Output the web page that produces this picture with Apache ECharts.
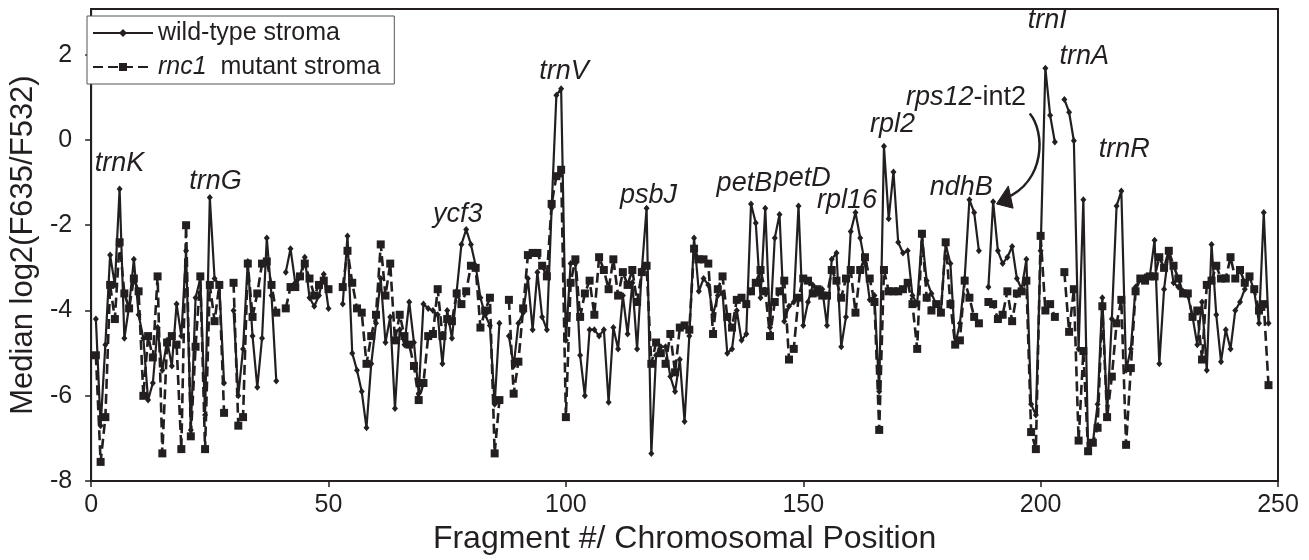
<!DOCTYPE html>
<html>
<head>
<meta charset="utf-8">
<script src="https://cdn.jsdelivr.net/npm/echarts@6/dist/echarts.min.js"></script>
<style>
html,body{margin:0;padding:0;background:#fff;}
#c{width:1309px;height:560px;}
</style>
</head>
<body>
<div id="c"></div>
<script>
// Median log2(F635/F532) per fragment (fragment # 1..248); null = missing
const wildType = [
-4.2,-6.7,-4.8,-2.7,-3.4,-1.15,-4.65,-3.9,-2.8,-4.1,
-4.65,-6.1,-5.7,-4.4,-5.4,-4.7,-5.3,-3.85,-4.6,-2.6,
-6.8,-3.7,-3.25,-6.45,-1.35,-3.25,-3.4,-5.7,null,-4.0,
-6.0,-4.9,-2.85,-4.6,-5.8,-4.65,-2.3,-3.65,-5.65,null,
-3.1,-2.55,-3.35,-3.2,-2.75,-3.7,-3.9,-3.65,-3.15,-3.95,
null,null,-3.85,-2.25,-5.0,-5.4,-5.9,-6.75,-5.25,-4.3,
-3.25,-4.75,-4.15,-6.3,-4.45,-4.8,-3.8,-4.75,-5.95,-3.85,
-3.95,-4.0,-4.1,-5.25,-4.0,-4.65,-3.55,-2.45,-2.1,-2.45,
-2.95,-3.7,-4.1,-4.35,-6.2,-4.3,null,-4.6,-5.3,-4.3,
-4.05,-3.25,-4.45,-3.1,-4.15,-4.45,-1.6,1.05,1.2,-4.7,
-2.9,-2.9,-5.05,-6.0,-4.45,-4.45,-4.6,-4.45,-6.15,-4.4,
-4.9,-3.65,-4.55,-3.35,-4.9,-3.05,-1.6,-7.35,-5.05,-4.85,
-4.85,-5.55,-5.9,-5.15,-6.6,-4.6,-2.3,-3.55,-3.25,-3.4,
-4.1,-3.65,-3.6,-5.0,-4.9,-4.0,-4.7,-4.55,-1.5,-1.95,
-3.7,-1.6,-4.4,-2.3,-1.75,-4.25,-3.9,-3.8,-1.55,-4.35,
-3.8,-3.4,-3.6,-3.5,-4.35,-2.8,-2.65,-4.85,-4.15,-2.15,
-1.7,-2.3,-2.9,-3.75,-3.65,-5.9,-0.15,-1.85,-0.75,-2.4,
-2.65,-2.6,-3.65,-3.85,-2.25,-3.3,-3.6,-3.85,-4.0,-2.45,
-2.9,-4.8,-4.3,-3.25,-1.4,-1.7,-2.6,null,-3.45,-1.45,
-2.6,-2.9,-2.75,-2.5,-3.25,-3.5,-2.8,-6.2,-6.45,-2.6,
1.68,0.58,-0.05,null,0.95,0.65,-0.02,-4.9,-1.4,-7.3,
-7.1,-6.2,-3.7,-6.45,-4.2,-1.55,-1.2,-5.4,-4.9,-3.45,
-3.25,-3.2,-3.2,-2.35,-5.25,-3.5,-2.6,-3.35,-3.45,-3.55,
-3.65,-4.15,-4.8,-3.8,-5.4,-2.45,-4.1,-5.2,-4.45,-4.9,
-4.0,-3.8,-3.5,-3.2,-3.55,-4.3,-1.7,-4.3
];
const mutant = [
-5.05,-7.55,-6.5,-3.4,-4.2,-2.4,-3.6,-3.95,-3.25,-3.55,
-6.0,-4.6,-5.1,-3.2,-7.35,-4.75,-4.6,-4.8,-7.25,-2.0,
-6.95,-4.85,-3.2,-7.25,-3.4,-4.25,-3.4,-6.4,null,-3.35,
-6.7,-6.5,-2.9,-4.15,-3.6,-2.9,-2.85,-3.4,-4.05,null,
-3.95,-3.45,-3.45,-3.2,-2.9,-3.25,-3.65,-3.4,-3.3,-3.5,
null,null,-3.45,-2.6,-3.35,-3.95,-4.05,-5.25,-4.6,-4.1,
-2.45,-3.65,-2.9,-4.7,-4.1,-4.6,-4.8,-5.3,-6.1,-5.7,
-4.6,-4.55,-3.5,-4.6,-4.2,-4.25,-3.6,-3.85,-3.55,-2.95,
-3.0,-4.4,-4.0,-3.7,-7.35,-6.1,null,-3.75,-5.95,-5.2,
-3.95,-2.7,-2.65,-2.65,-2.95,-3.2,-1.5,-0.85,-0.7,-6.5,
-3.35,-2.8,-4.15,-3.6,-3.3,-4.1,-2.75,-3.05,-3.5,-2.8,
-3.65,-3.1,-3.4,-3.05,-3.8,-3.1,-2.95,-5.25,-4.75,-5.0,
-5.25,-4.55,-5.45,-4.4,-4.35,-4.45,-2.55,-2.8,-2.8,-2.9,
-4.55,-3.5,-3.2,-4.15,-4.4,-3.75,-3.7,-3.85,-3.55,-3.35,
-3.05,-3.55,-4.6,-3.8,-3.55,-3.3,-5.15,-4.9,-3.7,-3.25,
-3.3,-3.6,-3.5,-3.65,-3.65,-3.05,-3.3,-3.7,-3.25,-3.05,
-4.05,-3.05,-2.75,-3.25,-3.8,-6.8,-3.05,-3.55,-3.55,-3.55,
-3.5,-3.35,-3.85,-4.9,-2.2,-3.7,-4.0,-3.85,-4.05,-2.4,
-3.85,-4.8,-4.7,-3.3,-3.7,-4.15,-4.3,null,-3.8,-3.85,
-4.2,-4.1,-3.55,-4.25,-3.6,-3.55,-3.3,-6.85,-7.25,-2.25,
-4.0,-3.85,-4.15,null,-3.1,-4.5,-3.5,-7.05,-4.95,-7.3,
-7.1,-6.75,-3.9,-6.5,-5.55,-4.3,-3.75,-7.15,-5.35,-3.55,
-3.25,-3.3,-3.2,-3.2,-2.75,-3.0,-2.6,-2.95,-3.25,-3.6,
-3.6,-4.15,-4.0,-5.15,-3.4,-3.3,-2.95,-3.25,-3.25,-2.75,
-3.25,-3.05,-3.35,-3.2,-3.5,-4.0,-3.85,-5.75
];
const fragment = wildType.map((_, i) => i + 1);
const xTicks = [0, 50, 100, 150, 200, 250];
const yTicks = [-8, -6, -4, -2, 0, 2];
const seriesNames = ['wild-type stroma', 'rnc1 mutant stroma'];
// gene annotations: label text and the data position of the label centre
const geneNames = ['trnK','trnG','ycf3','trnV','psbJ','petB','petD','rpl16','rpl2','ndhB','trnI','trnA','trnR'];
const geneLabelX = [6.0, 26.2, 77.2, 99.6, 117.4, 137.6, 149.8, 159.2, 168.8, 183.3, 201.4, 209.2, 217.6];
const geneLabelY = [-0.55, -0.97, -1.74, 1.6, -1.3, -1.02, -0.9, -1.42, 0.36, -1.12, 2.79, 1.95, -0.22];

const INK = '#231f20';
const FONT = '"Liberation Sans", Arial, Helvetica, sans-serif';

const chart = echarts.init(document.getElementById('c'), null, {renderer: 'canvas'});
const toPairs = arr => arr.map((v, i) => [fragment[i], v === null ? '-' : v]);

const option = {
  backgroundColor: '#fff',
  animation: false,
  grid: {left: 82, right: 31, top: 9, bottom: 61, show: true, borderColor: INK, borderWidth: 2, backgroundColor: 'transparent'},
  legend: {
    data: seriesNames,
    orient: 'vertical',
    left: 87, top: 16,
    padding: [2, 14, 2, 5],
    itemGap: 4,
    itemWidth: 60, itemHeight: 10,
    borderColor: '#555', borderWidth: 1,
    backgroundColor: '#fff',
    textStyle: {
      fontFamily: FONT, fontSize: 25, color: INK, lineHeight: 30,
      rich: {i: {fontStyle: 'italic', fontFamily: FONT, fontSize: 25, color: INK}}
    },
    formatter: n => n === seriesNames[1] ? '{i|rnc1}  mutant stroma' : n
  },
  xAxis: {
    type: 'value', min: xTicks[0], max: xTicks[xTicks.length - 1], interval: 50,
    name: 'Fragment #/ Chromosomal Position', nameLocation: 'middle', nameGap: 30,
    nameTextStyle: {fontFamily: FONT, fontSize: 32, color: INK},
    axisLine: {show: true, onZero: false, lineStyle: {color: INK, width: 2}},
    axisTick: {show: true, length: 6, lineStyle: {color: INK, width: 1.5}},
    axisLabel: {fontFamily: FONT, fontSize: 25, color: INK, margin: 12},
    splitLine: {show: false}
  },
  yAxis: {
    type: 'value', min: -8, max: 3.07, interval: 2,
    name: 'Median log2(F635/F532)', nameLocation: 'middle', nameGap: 48,
    nameTextStyle: {fontFamily: FONT, fontSize: 31, color: INK},
    axisLine: {show: true, onZero: false, lineStyle: {color: INK, width: 2}},
    axisTick: {show: true, length: 6, lineStyle: {color: INK, width: 1.5}, customValues: yTicks},
    axisLabel: {fontFamily: FONT, fontSize: 25, color: INK, margin: 19, customValues: yTicks},
    splitLine: {show: false}
  },
  series: [
    {
      name: seriesNames[0], type: 'line', data: toPairs(wildType),
      symbol: 'diamond', symbolSize: [6, 7], showAllSymbol: true,
      lineStyle: {color: INK, width: 2.2},
      itemStyle: {color: INK},
      connectNulls: false, z: 3
    },
    {
      name: seriesNames[1], type: 'line', data: toPairs(mutant),
      symbol: 'rect', symbolSize: 8, showAllSymbol: true,
      lineStyle: {color: INK, width: 2.6, type: [10, 5]},
      itemStyle: {color: INK},
      connectNulls: false, z: 2
    }
  ]
};
chart.setOption(option);

function px(x, y) { return chart.convertToPixel({gridIndex: 0}, [x, y]); }
const graphics = [];
geneNames.forEach((g, i) => {
  const p = px(geneLabelX[i], geneLabelY[i]);
  graphics.push({type: 'text', x: p[0], y: p[1], z: 10,
    style: {text: g, fontFamily: FONT, fontSize: 27, fontStyle: 'italic', fill: INK, align: 'center', verticalAlign: 'middle'}});
});
// rps12-int2 label with curved arrow to its peak
const rp = px(184.3, 1.0);
graphics.push({type: 'text', x: rp[0], y: rp[1], z: 10,
  style: {text: '{i|rps12}-int2', fontFamily: FONT, fontSize: 27, fill: INK, align: 'center', verticalAlign: 'middle',
    rich: {i: {fontStyle: 'italic', fontFamily: FONT, fontSize: 27, fill: INK}}}});
const a0 = px(197.7, 0.62), c1 = px(200.9, 0.2), c2 = px(201.2, -0.95), a1 = px(192.6, -1.37);
graphics.push({type: 'bezierCurve', z: 10,
  shape: {x1: a0[0], y1: a0[1], cpx1: c1[0], cpy1: c1[1], cpx2: c2[0], cpy2: c2[1], x2: a1[0], y2: a1[1]},
  style: {stroke: INK, lineWidth: 2.5, fill: null}});
const tip = px(190.7, -1.5), h1 = px(193.2, -1.08), h2 = px(194.2, -1.6);
graphics.push({type: 'polygon', z: 10,
  shape: {points: [tip, h1, h2]}, style: {fill: INK, stroke: INK, lineWidth: 1}});
chart.setOption({graphic: graphics});
</script>
</body>
</html>
